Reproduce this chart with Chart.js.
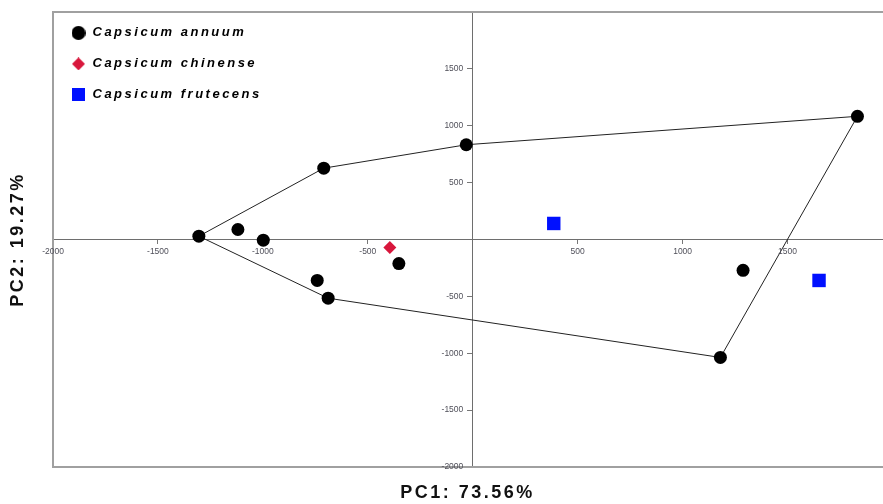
<!DOCTYPE html>
<html>
<head>
<meta charset="utf-8">
<script src="https://cdn.jsdelivr.net/npm/chart.js@4.4.1/dist/chart.umd.min.js"></script>
<style>
    html, body { margin: 0; padding: 0; background: #fff; overflow: hidden; }
    #wrap { width: 883px; height: 504px; }
</style>
</head>
<body>
<div id="wrap"><canvas id="pcaChart"></canvas></div>
<script>
// PCA scores
const annuumX = [-1305, -1119, -998, -710, -31, 1833, -741, -689, -352, 1180, 1288];
const annuumY = [29, 88, -6, 627, 833, 1083, -360, -516, -212, -1037, -271];
const chinenseX = [-395];
const chinenseY = [-71];
const frutecensX = [386, 1650];
const frutecensY = [141, -360];
// convex hull of C. annuum, as indices into the annuum arrays
const hullOrder = [0, 3, 4, 5, 9, 7, 0];

const seriesNames = ['Capsicum annuum', 'Capsicum chinense', 'Capsicum frutecens'];
const xTicks = [-2000, -1500, -1000, -500, 500, 1000, 1500];
const yTicks = [-2000, -1500, -1000, -500, 500, 1000, 1500];

const toPoints = (xs, ys) => xs.map((x, i) => ({x: x, y: ys[i]}));

function markerIcon(shape, color, size) {
    const c = document.createElement('canvas');
    c.width = c.height = size;
    const g = c.getContext('2d');
    const h = size / 2;
    g.fillStyle = color;
    g.beginPath();
    if (shape === 'circle') {
        g.arc(h, h, h, 0, Math.PI * 2);
    } else if (shape === 'diamond') {
        g.moveTo(h, 0); g.lineTo(size, h); g.lineTo(h, size); g.lineTo(0, h); g.closePath();
    } else {
        g.rect(0, 0, size, size);
    }
    g.fill();
    return c;
}

const legendIcons = [
    markerIcon('circle', '#000000', 14),
    markerIcon('diamond', '#d8173c', 13),
    markerIcon('square', '#0010ff', 13)
];

// wider letters for legend and axis titles, plain for tick labels
const letterSpacing = {
    id: 'letterSpacing',
    beforeDraw(chart) { chart.ctx.letterSpacing = '2.5px'; },
    beforeDatasetsDraw(chart) { chart.ctx.letterSpacing = '0px'; }
};

const plotFrame = {
    id: 'plotFrame',
    beforeDatasetsDraw(chart) {
        const {ctx, chartArea: a} = chart;
        ctx.save();
        ctx.strokeStyle = '#a0a0a0';
        ctx.lineWidth = 2;
        ctx.beginPath();
        ctx.moveTo(a.right + 2, a.top);
        ctx.lineTo(a.left, a.top);
        ctx.lineTo(a.left, a.bottom);
        ctx.lineTo(a.right + 2, a.bottom);
        ctx.stroke();
        ctx.restore();
    }
};

const tickFont = {family: "'Liberation Sans', Arial, sans-serif", size: 8.5};
const titleFont = {family: "'Liberation Sans', Arial, sans-serif", size: 18, weight: 'bold'};

const ctx = document.getElementById('pcaChart').getContext('2d');
new Chart(ctx, {
    type: 'scatter',
    data: {
        datasets: [{
            label: seriesNames[0],
            data: toPoints(annuumX, annuumY),
            pointStyle: 'circle',
            pointRadius: 6.5,
            backgroundColor: '#000000',
            borderWidth: 0
        }, {
            label: seriesNames[1],
            data: toPoints(chinenseX, chinenseY),
            pointStyle: 'rectRot',
            pointRadius: 6.5,
            backgroundColor: '#d8173c',
            borderWidth: 0
        }, {
            label: seriesNames[2],
            data: toPoints(frutecensX, frutecensY),
            pointStyle: 'rect',
            pointRadius: 9.5,
            backgroundColor: '#0010ff',
            borderWidth: 0
        }, {
            label: 'hull',
            data: hullOrder.map(i => ({x: annuumX[i], y: annuumY[i]})),
            showLine: true,
            pointRadius: 0,
            borderColor: '#222222',
            borderWidth: 1
        }]
    },
    options: {
        responsive: true,
        maintainAspectRatio: false,
        animation: false,
        layout: {autoPadding: false, padding: {top: 12, right: 1, bottom: 0, left: 0}},
        scales: {
            x: {
                type: 'linear',
                min: -2000,
                max: 1950,
                position: {y: 0},
                afterBuildTicks: scale => { scale.ticks = xTicks.map(v => ({value: v})); },
                afterFit: scale => {
                    scale.height = 0;
                    scale.paddingLeft = 0;
                    scale.paddingRight = 0;
                },
                ticks: {
                    font: tickFont, color: '#50505a', padding: 3, maxRotation: 0, autoSkip: false, z: 1,
                    callback: v => String(v)
                },
                grid: {drawOnChartArea: false, drawTicks: true, tickLength: 4, color: '#777'},
                border: {color: '#6e6e6e', width: 1}
            },
            y: {
                type: 'linear',
                min: -2000,
                max: 2000,
                position: {x: 0},
                afterBuildTicks: scale => { scale.ticks = yTicks.map(v => ({value: v})); },
                afterFit: scale => {
                    scale.width = 0;
                    scale.paddingTop = 0;
                    scale.paddingBottom = 0;
                },
                ticks: {
                    font: tickFont, color: '#50505a', autoSkip: false, z: 1,
                    // labels of a value-positioned axis sit on the axis line, keep them clear of the ticks
                    callback: v => String(v) + '\u2007\u2007'
                },
                grid: {drawOnChartArea: false, drawTicks: true, tickLength: 5, color: '#777'},
                border: {color: '#6e6e6e', width: 1}
            }
        },
        plugins: {
            legend: {
                position: 'chartArea',
                align: 'start',
                title: {display: true, text: ' ', font: {size: 7}, padding: 0},
                labels: {
                    usePointStyle: true,
                    pointStyleWidth: 15,
                    padding: 18,
                    color: '#000',
                    font: {family: "'Liberation Sans', Arial, sans-serif", size: 13, style: 'italic', weight: 'bold'},
                    generateLabels: chart => Chart.defaults.plugins.legend.labels.generateLabels(chart)
                        .filter(item => item.datasetIndex < 3)
                        .map(item => Object.assign(item, {pointStyle: legendIcons[item.datasetIndex]}))
                }
            },
            title: {
                display: true,
                text: 'PC1: 73.56%',
                position: 'bottom',
                fullSize: false,
                color: '#111',
                font: titleFont,
                padding: {top: 15.2, bottom: 0.2}
            },
            subtitle: {
                display: true,
                text: 'PC2: 19.27%',
                position: 'left',
                fullSize: false,
                color: '#111',
                font: titleFont,
                padding: {top: 7.2, bottom: 24.2}
            },
            tooltip: {enabled: false}
        }
    },
    plugins: [letterSpacing, plotFrame]
});
</script>
</body>
</html>
